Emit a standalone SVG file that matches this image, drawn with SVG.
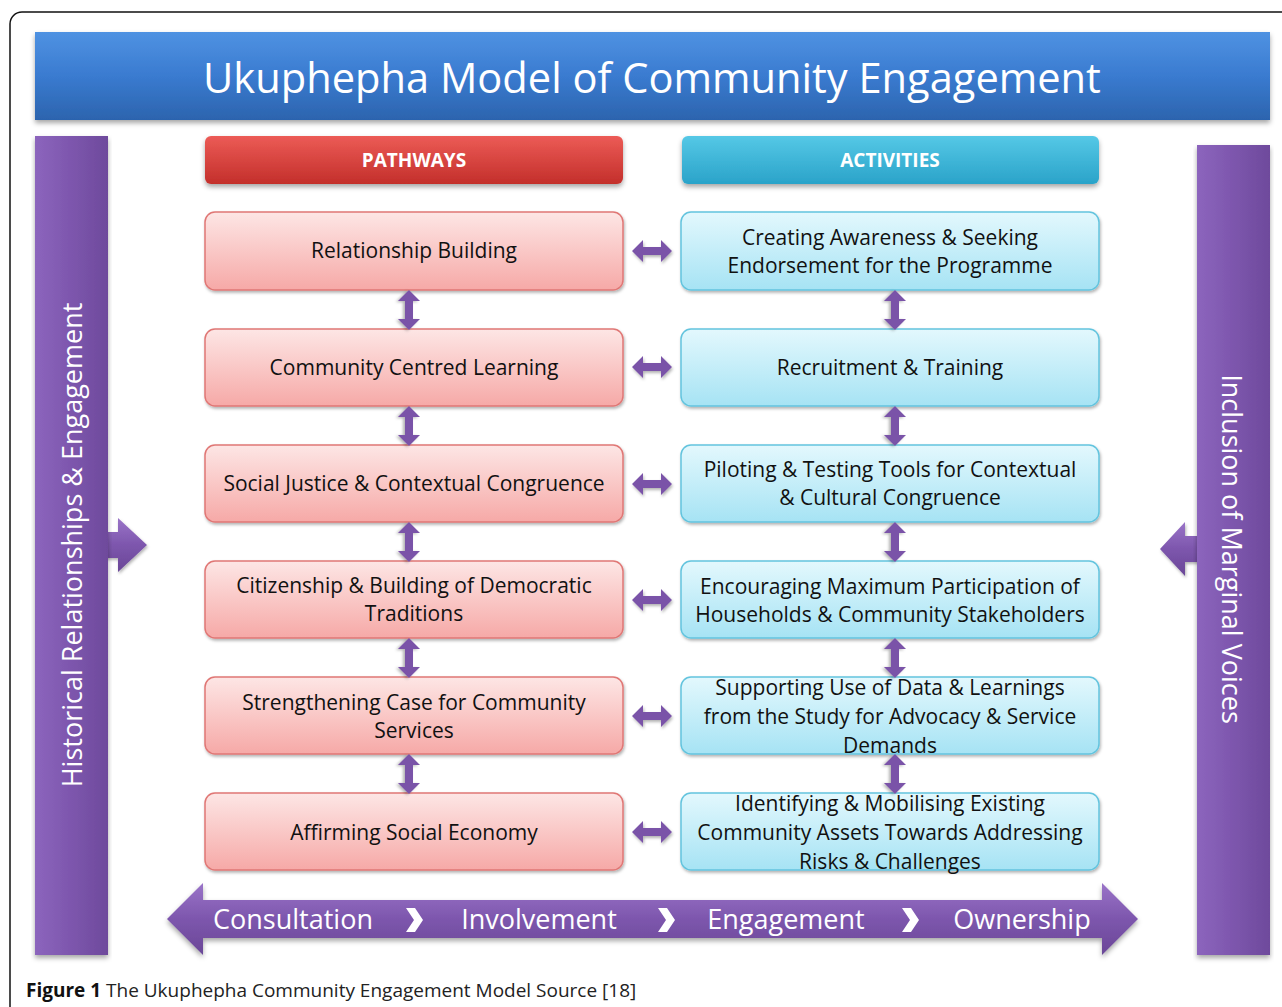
<svg xmlns="http://www.w3.org/2000/svg" width="1282" height="1007" viewBox="0 0 1282 1007">
<defs>
<linearGradient id="gTitle" x1="0" y1="0" x2="0" y2="1"><stop offset="0" stop-color="#4f92e2"/><stop offset="0.5" stop-color="#3a7bd0"/><stop offset="1" stop-color="#2c64ae"/></linearGradient>
<linearGradient id="gPurpleV" x1="0" y1="0" x2="1" y2="0"><stop offset="0" stop-color="#8c65bd"/><stop offset="0.5" stop-color="#7d56ad"/><stop offset="1" stop-color="#6e4a9c"/></linearGradient>
<linearGradient id="gPurpleH" x1="0" y1="0" x2="0" y2="1"><stop offset="0" stop-color="#9a74c8"/><stop offset="0.5" stop-color="#7d56ad"/><stop offset="1" stop-color="#6a4797"/></linearGradient>
<linearGradient id="gRed" x1="0" y1="0" x2="0" y2="1"><stop offset="0" stop-color="#ec5b56"/><stop offset="1" stop-color="#c32f2b"/></linearGradient>
<linearGradient id="gCyan" x1="0" y1="0" x2="0" y2="1"><stop offset="0" stop-color="#55c8e6"/><stop offset="1" stop-color="#2aa3c9"/></linearGradient>
<linearGradient id="gPink" x1="0" y1="0" x2="0" y2="1"><stop offset="0" stop-color="#fde6e5"/><stop offset="1" stop-color="#f6a9a7"/></linearGradient>
<linearGradient id="gAqua" x1="0" y1="0" x2="0" y2="1"><stop offset="0" stop-color="#e3f8fd"/><stop offset="1" stop-color="#a6e3f4"/></linearGradient>
<filter id="sh" x="-5%" y="-20%" width="110%" height="150%"><feDropShadow dx="0" dy="3" stdDeviation="2.5" flood-color="#000" flood-opacity="0.35"/></filter>
<filter id="sh2" x="-10%" y="-20%" width="120%" height="150%"><feDropShadow dx="1" dy="2" stdDeviation="1.5" flood-color="#000" flood-opacity="0.3"/></filter>
<path id="hArrow" d="M-20,0 L-9,-11 L-9,-4 L9,-4 L9,-11 L20,0 L9,11 L9,4 L-9,4 L-9,11 Z"/>
<path id="chev" d="M-8,-12 L1,-12 L9,0 L1,12 L-8,12 L0,0 Z"/>
</defs>
<style>
.txt{font-family:"Open Sans","Noto Sans","DejaVu Sans",sans-serif;}
.box text{font-family:"Open Sans","Noto Sans",sans-serif;font-size:21px;fill:#111;text-anchor:middle;}
.pw{fill:url(#gPink);stroke:#e07775;stroke-width:1.5;filter:url(#sh2);}
.ac{fill:url(#gAqua);stroke:#63c4de;stroke-width:1.5;filter:url(#sh2);}
.arr{fill:#7a52a8;filter:url(#sh2);}
.hdr{font-family:"Open Sans","Noto Sans",sans-serif;font-size:19px;font-weight:bold;fill:#fff;text-anchor:middle;}
.stage{font-family:"Open Sans","Noto Sans",sans-serif;font-size:27px;fill:#fff;text-anchor:middle;}
</style>
<rect x="0" y="0" width="1282" height="1007" fill="#fff"/>
<rect x="10" y="12" width="1300" height="1020" rx="12" fill="none" stroke="#111" stroke-width="1.5"/>

<g id="title">
<rect x="35" y="32" width="1235" height="88" fill="url(#gTitle)" filter="url(#sh)"/>
<text x="652" y="93" class="txt" font-size="41.6" fill="#fff" text-anchor="middle">Ukuphepha Model of Community Engagement</text>
</g>

<g id="left-bar">
<path d="M100,532 L118,532 L118,518 L147,545 L118,572 L118,558 L100,558 Z" fill="url(#gPurpleH)" filter="url(#sh2)"/>
<rect x="35" y="136" width="73" height="819" fill="url(#gPurpleV)" filter="url(#sh)"/>
<text transform="translate(82,545) rotate(-90)" class="txt" font-size="27" fill="#fff" text-anchor="middle">Historical Relationships &amp; Engagement</text>
</g>

<g id="right-bar">
<path d="M1205,536 L1185,536 L1185,522 L1160,549 L1185,576 L1185,562 L1205,562 Z" fill="url(#gPurpleH)" filter="url(#sh2)"/>
<rect x="1197" y="145" width="73" height="810" fill="url(#gPurpleV)" filter="url(#sh)"/>
<text transform="translate(1222,549) rotate(90)" class="txt" font-size="27" fill="#fff" text-anchor="middle">Inclusion of Marginal Voices</text>
</g>

<g id="pathways-header">
<rect x="205" y="136" width="418" height="48" rx="6" fill="url(#gRed)" filter="url(#sh)"/>
<text x="414" y="167" class="hdr">PATHWAYS</text>
</g>
<g id="activities-header">
<rect x="682" y="136" width="417" height="48" rx="6" fill="url(#gCyan)" filter="url(#sh)"/>
<text x="890" y="167" class="hdr">ACTIVITIES</text>
</g>

<g id="p1" class="box"><rect class="pw" x="205" y="212" width="418" height="78" rx="10"/><text x="414" y="258">Relationship Building</text></g>
<g id="p2" class="box"><rect class="pw" x="205" y="329" width="418" height="77" rx="10"/><text x="414" y="375">Community Centred Learning</text></g>
<g id="p3" class="box"><rect class="pw" x="205" y="445" width="418" height="77" rx="10"/><text x="414" y="491">Social Justice &amp; Contextual Congruence</text></g>
<g id="p4" class="box"><rect class="pw" x="205" y="561" width="418" height="77" rx="10"/><text x="414" y="593">Citizenship &amp; Building of Democratic</text><text x="414" y="621">Traditions</text></g>
<g id="p5" class="box"><rect class="pw" x="205" y="677" width="418" height="77" rx="10"/><text x="414" y="710">Strengthening Case for Community</text><text x="414" y="738">Services</text></g>
<g id="p6" class="box"><rect class="pw" x="205" y="793" width="418" height="77" rx="10"/><text x="414" y="840">Affirming Social Economy</text></g>

<g id="a1" class="box"><rect class="ac" x="681" y="212" width="418" height="78" rx="10"/><text x="890" y="245">Creating Awareness &amp; Seeking</text><text x="890" y="273">Endorsement for the Programme</text></g>
<g id="a2" class="box"><rect class="ac" x="681" y="329" width="418" height="77" rx="10"/><text x="890" y="375">Recruitment &amp; Training</text></g>
<g id="a3" class="box"><rect class="ac" x="681" y="445" width="418" height="77" rx="10"/><text x="890" y="477">Piloting &amp; Testing Tools for Contextual</text><text x="890" y="505">&amp; Cultural Congruence</text></g>
<g id="a4" class="box"><rect class="ac" x="681" y="561" width="418" height="77" rx="10"/><text x="890" y="594">Encouraging Maximum Participation of</text><text x="890" y="622">Households &amp; Community Stakeholders</text></g>
<g id="a5" class="box"><rect class="ac" x="681" y="677" width="418" height="77" rx="10"/><text x="890" y="695">Supporting Use of Data &amp; Learnings</text><text x="890" y="724">from the Study for Advocacy &amp; Service</text><text x="890" y="753">Demands</text></g>
<g id="a6" class="box"><rect class="ac" x="681" y="793" width="418" height="77" rx="10"/><text x="890" y="811">Identifying &amp; Mobilising Existing</text><text x="890" y="840">Community Assets Towards Addressing</text><text x="890" y="869">Risks &amp; Challenges</text></g>

<g id="connectors">
<use href="#hArrow" class="arr" transform="translate(652,251)"/>
<use href="#hArrow" class="arr" transform="translate(652,367)"/>
<use href="#hArrow" class="arr" transform="translate(652,484)"/>
<use href="#hArrow" class="arr" transform="translate(652,600)"/>
<use href="#hArrow" class="arr" transform="translate(652,716)"/>
<use href="#hArrow" class="arr" transform="translate(652,832)"/>
<use href="#hArrow" class="arr" transform="translate(409,310) rotate(90)"/>
<use href="#hArrow" class="arr" transform="translate(409,426) rotate(90)"/>
<use href="#hArrow" class="arr" transform="translate(409,542) rotate(90)"/>
<use href="#hArrow" class="arr" transform="translate(409,658) rotate(90)"/>
<use href="#hArrow" class="arr" transform="translate(409,774) rotate(90)"/>
<use href="#hArrow" class="arr" transform="translate(895,310) rotate(90)"/>
<use href="#hArrow" class="arr" transform="translate(895,426) rotate(90)"/>
<use href="#hArrow" class="arr" transform="translate(895,542) rotate(90)"/>
<use href="#hArrow" class="arr" transform="translate(895,658) rotate(90)"/>
<use href="#hArrow" class="arr" transform="translate(895,774) rotate(90)"/>
</g>

<g id="stages">
<path d="M167,919 L203,883 L203,900 L1102,900 L1102,883 L1138,919 L1102,955 L1102,938 L203,938 L203,955 Z" fill="url(#gPurpleH)" filter="url(#sh)"/>
<text x="293" y="929" class="stage">Consultation</text>
<use href="#chev" fill="#fff" transform="translate(414,920)"/>
<text x="539" y="929" class="stage">Involvement</text>
<use href="#chev" fill="#fff" transform="translate(666,920)"/>
<text x="786" y="929" class="stage">Engagement</text>
<use href="#chev" fill="#fff" transform="translate(910,920)"/>
<text x="1022" y="929" class="stage">Ownership</text>
</g>

<g id="caption">
<text x="26" y="997" class="txt" font-size="19" fill="#222"><tspan font-weight="bold" fill="#111">Figure 1</tspan> The Ukuphepha Community Engagement Model Source [18]</text>
</g>
</svg>
